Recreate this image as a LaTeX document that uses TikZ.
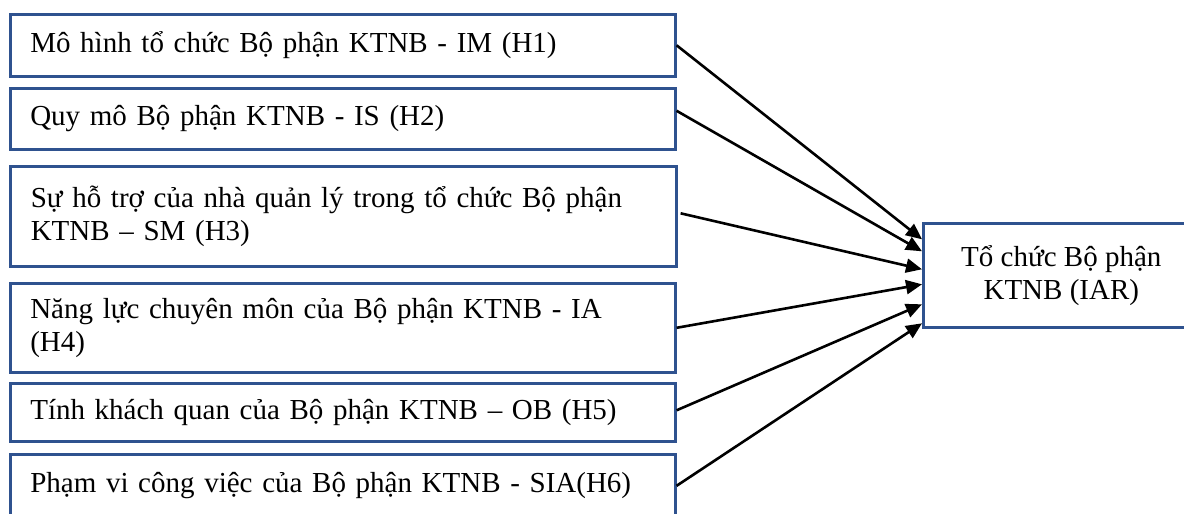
\documentclass[tikz,border=0pt]{standalone}
\usepackage{fontspec}
\setmainfont{Liberation Serif}
\usetikzlibrary{arrows.meta}
\definecolor{boxblue}{RGB}{47,82,143}
\begin{document}
\begin{tikzpicture}[x=1pt,y=-1pt,
  lbox/.style={draw=boxblue, line width=2.6pt, anchor=north west, minimum width=665pt, text width=625pt, inner xsep=20pt, inner ysep=0pt, align=left, font=\fontsize{29}{33}\selectfont},
  rbox/.style={draw=boxblue, line width=2.6pt, anchor=north west, minimum width=276pt, minimum height=104pt, inner sep=0pt, align=center, font=\fontsize{29}{33}\selectfont},
  arr/.style={line width=2.6pt, -{Triangle[length=16pt,width=14pt]}}]
\useasboundingbox (0,0) rectangle (1184,514);
\node[lbox, minimum height=62pt] (b1) at (9,13) {Mô hình tổ chức Bộ phận KTNB - IM (H1)};
\node[lbox, minimum height=61pt] (b2) at (9,87) {Quy mô Bộ phận KTNB - IS (H2)};
\node[lbox, minimum height=100pt, minimum width=666pt] (b3) at (9,165) {Sự hỗ trợ của nhà quản lý trong tổ chức Bộ phận\\KTNB – SM (H3)};
\node[lbox, minimum height=89pt] (b4) at (9,282) {Năng lực chuyên môn của Bộ phận KTNB - IA\\(H4)};
\node[lbox, minimum height=58pt] (b5) at (9,382) {Tính khách quan của Bộ phận KTNB – OB (H5)};
\node[lbox, minimum height=63pt] (b6) at (9,453) {Phạm vi công việc của Bộ phận KTNB - SIA(H6)};
\node[rbox] (r) at (922,222) {Tổ chức Bộ phận\\KTNB (IAR)};
\draw[arr] (b1.east) -- ([yshift=36pt]r.west);
\draw[arr] ([yshift=8pt]b2.east) -- ([yshift=24pt]r.west);
\draw[arr] ([xshift=3pt,yshift=3pt]b3.east) -- ([yshift=6pt]r.west);
\draw[arr] (b4.east) -- ([yshift=-9pt]r.west);
\draw[arr] ([yshift=2pt]b5.east) -- ([yshift=-29pt]r.west);
\draw[arr] (b6.east) -- ([yshift=-48pt]r.west);
\end{tikzpicture}
\end{document}
